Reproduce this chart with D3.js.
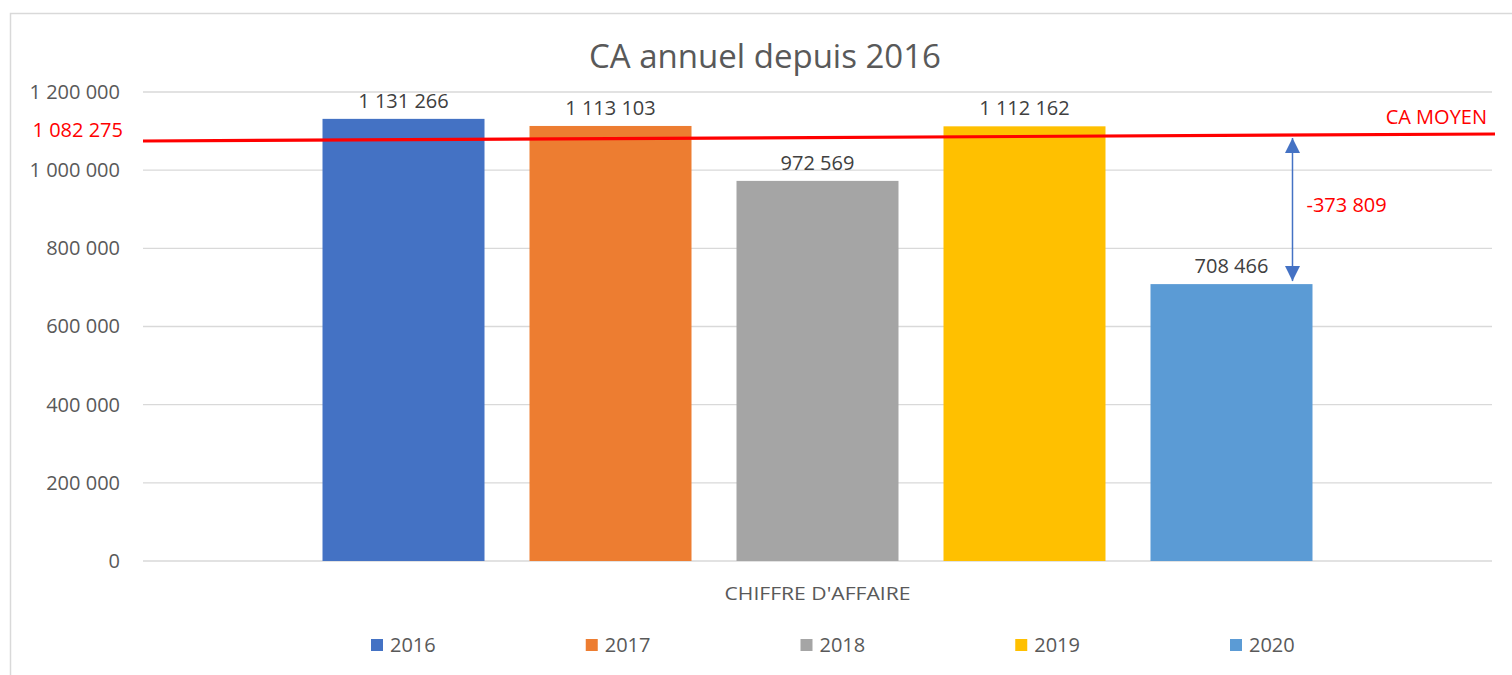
<!DOCTYPE html>
<html><head><meta charset="utf-8">
<script src="https://cdn.jsdelivr.net/npm/d3@7"></script>
<style>
html,body{margin:0;padding:0;background:#fff;}
svg{display:block;font-family:"Open Sans","Noto Sans",sans-serif;}
</style></head>
<body><svg id="c" width="1512" height="675"></svg>
<script>
const title = "CA annuel depuis 2016";
const category = ["CHIFFRE D'AFFAIRE"];
const years = ["2016","2017","2018","2019","2020"];
const values = [1131266, 1113103, 972569, 1112162, 708466];
const colors = ["#4472C4","#ED7D31","#A5A5A5","#FFC000","#5B9BD5"];
const yTicks = [0, 200000, 400000, 600000, 800000, 1000000, 1200000];
const average = 1082275;
const averageLabel = "CA MOYEN";
const gapValue = values[4] - average; // -373 809

const fmt = v => d3.format(",")(Math.round(v)).replace(/,/g, " ");
const FS = "20px";

const svg = d3.select("#c");
// chart frame
svg.append("rect").attr("x",10.5).attr("y",13.5).attr("width",1520).attr("height",700)
  .attr("fill","#fff").attr("stroke","#D9D9D9").attr("stroke-width",1.5);

const plotL = 143, plotR = 1492, plotT = 92, plotB = 561;
const y = d3.scaleLinear().domain([0, 1200000]).range([plotB, plotT]);
const xCat = d3.scaleBand().domain(category).range([plotL, plotR]).paddingInner(0).paddingOuter(0.1517);
const x = d3.scaleBand().domain(years).range([xCat(category[0]), xCat(category[0]) + xCat.bandwidth()])
  .paddingInner(0.2174).paddingOuter(0.1087);

// gridlines
svg.append("g").selectAll("line").data(yTicks).join("line")
  .attr("x1", plotL).attr("x2", plotR)
  .attr("y1", d => y(d)).attr("y2", d => y(d))
  .attr("stroke","#D9D9D9").attr("stroke-width",1.3);

// y axis labels
const yAxis = d3.axisLeft(y).tickValues(yTicks).tickFormat(fmt).tickSize(0).tickPadding(0);
const ga = svg.append("g").attr("transform", `translate(${plotL - 23},0)`).call(yAxis);
ga.select(".domain").remove();
ga.selectAll("text").attr("fill","#595959").style("font-size",FS).style("font-family","'Open Sans',sans-serif");

// bars
svg.append("g").selectAll("rect").data(values).join("rect")
  .attr("x", (d,i) => x(years[i])).attr("width", x.bandwidth())
  .attr("y", d => y(d)).attr("height", d => y(0) - y(d))
  .attr("fill", (d,i) => colors[i]);

// data labels
svg.append("g").selectAll("text").data(values).join("text")
  .attr("x", (d,i) => x(years[i]) + x.bandwidth()/2)
  .attr("y", d => y(d) - 11)
  .attr("text-anchor","middle").attr("fill","#404040")
  .style("font-size",FS).text(d => fmt(d));

// average line
svg.append("line")
  .attr("x1", plotL).attr("x2", plotR + 3)
  .attr("y1", y(average) + 3).attr("y2", y(average) - 4)
  .attr("stroke","#FF0000").attr("stroke-width",3.2);
svg.append("text").attr("x", plotL - 20).attr("y", y(average) - 1)
  .attr("text-anchor","end").attr("fill","#FF0000").style("font-size",FS).text(fmt(average));
svg.append("text").attr("x", plotR - 5).attr("y", y(average) - 14)
  .attr("text-anchor","end").attr("fill","#FF0000").style("font-size",FS).text(averageLabel);

// gap arrow
const ax = x(years[4]) + x.bandwidth() - 20;
const defs = svg.append("defs");
defs.append("marker").attr("id","ah").attr("viewBox","0 0 10 10").attr("refX",10).attr("refY",5)
  .attr("markerUnits","userSpaceOnUse")
  .attr("orient","auto-start-reverse").attr("markerWidth",15).attr("markerHeight",15)
  .append("path").attr("d","M0,0 L10,5 L0,10 Z").attr("fill","#4472C4");
svg.append("line").attr("x1", ax).attr("x2", ax)
  .attr("y1", y(average) + 0).attr("y2", y(values[4]) - 3)
  .attr("stroke","#4472C4").attr("stroke-width",1.5)
  .attr("marker-start","url(#ah)").attr("marker-end","url(#ah)");
svg.append("text").attr("x", ax + 14).attr("y", (y(average) + y(values[4]))/2 + 1)
  .attr("fill","#FF0000").style("font-size",FS).text("-" + fmt(-gapValue));

// title
svg.append("text").attr("x", 765).attr("y", 68).attr("text-anchor","middle")
  .attr("fill","#595959").style("font-size","33px").text(title);

// category axis label
svg.append("text").attr("x", xCat(category[0]) + xCat.bandwidth()/2).attr("y", 600)
  .attr("text-anchor","middle").attr("fill","#595959")
  .style("font-size","18.5px").style("font-family","'Open Sans',sans-serif")
  .attr("textLength",186).attr("lengthAdjust","spacingAndGlyphs")
  .text(category[0]);

// legend
const legX = d3.scalePoint().domain(years).range([371, 1230]);
const lg = svg.append("g").selectAll("g").data(years).join("g")
  .attr("transform", d => `translate(${legX(d)},645)`);
lg.append("rect").attr("x",0).attr("y",-6).attr("width",12).attr("height",12)
  .attr("fill",(d,i) => colors[i]);
lg.append("text").attr("x",19).attr("y",7).attr("fill","#595959")
  .style("font-size",FS).text(d => d);
</script></body></html>
